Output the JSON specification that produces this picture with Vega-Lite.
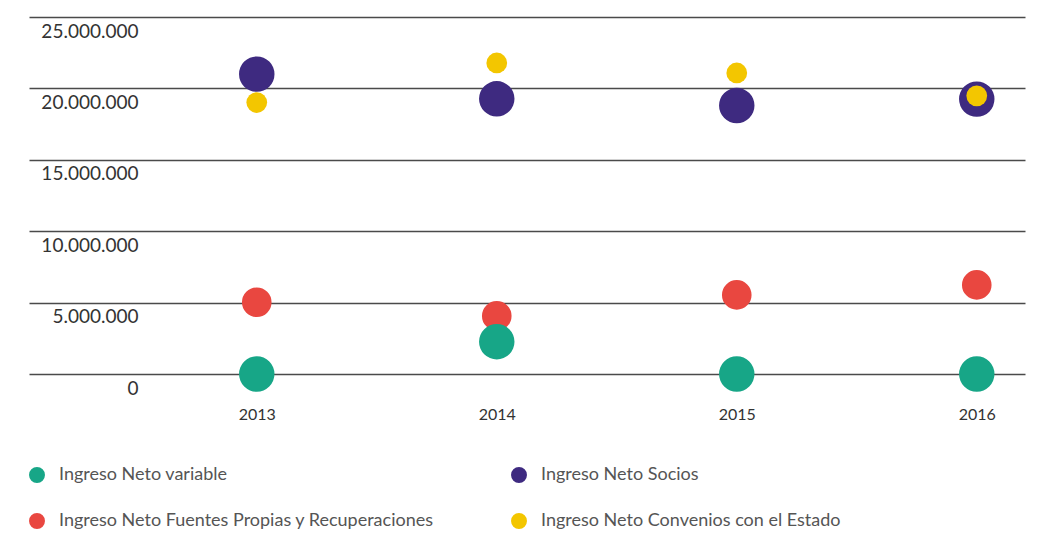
{
  "$schema": "https://vega.github.io/schema/vega-lite/v6.json",
  "width": 996,
  "height": 357,
  "autosize": {"type": "none"},
  "padding": {"left": 29, "top": 17, "right": 15, "bottom": 169},
  "background": "#ffffff",
  "config": {
    "view": {"stroke": null},
    "font": "Lato"
  },
  "data": {
    "values": [
      {"year": 2013, "serie": "Ingreso Neto Fuentes Propias y Recuperaciones", "valor": 5020000},
      {"year": 2014, "serie": "Ingreso Neto Fuentes Propias y Recuperaciones", "valor": 4070000},
      {"year": 2015, "serie": "Ingreso Neto Fuentes Propias y Recuperaciones", "valor": 5540000},
      {"year": 2016, "serie": "Ingreso Neto Fuentes Propias y Recuperaciones", "valor": 6240000},
      {"year": 2013, "serie": "Ingreso Neto variable", "valor": 0},
      {"year": 2014, "serie": "Ingreso Neto variable", "valor": 2260000},
      {"year": 2015, "serie": "Ingreso Neto variable", "valor": 0},
      {"year": 2016, "serie": "Ingreso Neto variable", "valor": 0},
      {"year": 2013, "serie": "Ingreso Neto Socios", "valor": 21000000},
      {"year": 2014, "serie": "Ingreso Neto Socios", "valor": 19270000},
      {"year": 2015, "serie": "Ingreso Neto Socios", "valor": 18800000},
      {"year": 2016, "serie": "Ingreso Neto Socios", "valor": 19250000},
      {"year": 2013, "serie": "Ingreso Neto Convenios con el Estado", "valor": 19010000},
      {"year": 2014, "serie": "Ingreso Neto Convenios con el Estado", "valor": 21780000},
      {"year": 2015, "serie": "Ingreso Neto Convenios con el Estado", "valor": 21080000},
      {"year": 2016, "serie": "Ingreso Neto Convenios con el Estado", "valor": 19480000}
    ]
  },
  "encoding": {
    "x": {
      "field": "year",
      "type": "quantitative",
      "scale": {"domain": [2012.051, 2016.201], "nice": false, "zero": false},
      "axis": {
        "values": [2013, 2014, 2015, 2016],
        "format": "d",
        "title": null,
        "grid": false,
        "domain": false,
        "ticks": false,
        "tickSize": 0,
        "labelPadding": 32,
        "labelFontSize": 16,
        "labelColor": "#333333",
        "labelFlush": false
      }
    },
    "y": {
      "field": "valor",
      "type": "quantitative",
      "scale": {"domain": [0, 25000000], "nice": false},
      "axis": {
        "values": [0, 5000000, 10000000, 15000000, 20000000, 25000000],
        "labelExpr": "replace(format(datum.value, ','), regexp(',', 'g'), '.')",
        "title": null,
        "domain": false,
        "ticks": false,
        "tickSize": 0,
        "grid": true,
        "gridColor": "#4a4a4a",
        "gridWidth": 1.3,
        "gridOpacity": 1,
        "labelAlign": "right",
        "labelBaseline": "middle",
        "labelPadding": -109,
        "labelOffset": 14,
        "labelFontSize": 19,
        "labelColor": "#333333",
        "labelFlush": false
      }
    },
    "color": {
      "field": "serie",
      "type": "nominal",
      "scale": {
        "domain": ["Ingreso Neto variable", "Ingreso Neto Socios", "Ingreso Neto Fuentes Propias y Recuperaciones", "Ingreso Neto Convenios con el Estado"],
        "range": ["#17a687", "#3e2a80", "#e94740", "#f3c600"]
      },
      "legend": {
        "title": null,
        "orient": "none",
        "legendX": -1,
        "legendY": 449,
        "direction": "horizontal",
        "columns": 2,
        "padding": 0,
        "rowPadding": 28,
        "columnPadding": 76,
        "symbolType": "circle",
        "symbolSize": 254,
        "symbolStrokeWidth": 0,
        "symbolOpacity": 1,
        "labelOffset": 13,
        "labelFontSize": 18,
        "labelColor": "#555555",
        "labelLimit": 600
      }
    }
  },
  "layer": [
    {
      "transform": [{"filter": "datum.serie == 'Ingreso Neto Fuentes Propias y Recuperaciones'"}],
      "mark": {"type": "circle", "opacity": 1, "strokeWidth": 0, "size": 876}
    },
    {
      "transform": [{"filter": "datum.serie == 'Ingreso Neto variable' || datum.serie == 'Ingreso Neto Socios'"}],
      "mark": {"type": "circle", "opacity": 1, "strokeWidth": 0, "size": 1257}
    },
    {
      "transform": [{"filter": "datum.serie == 'Ingreso Neto Convenios con el Estado'"}],
      "mark": {"type": "circle", "opacity": 1, "strokeWidth": 0, "size": 430}
    }
  ]
}
